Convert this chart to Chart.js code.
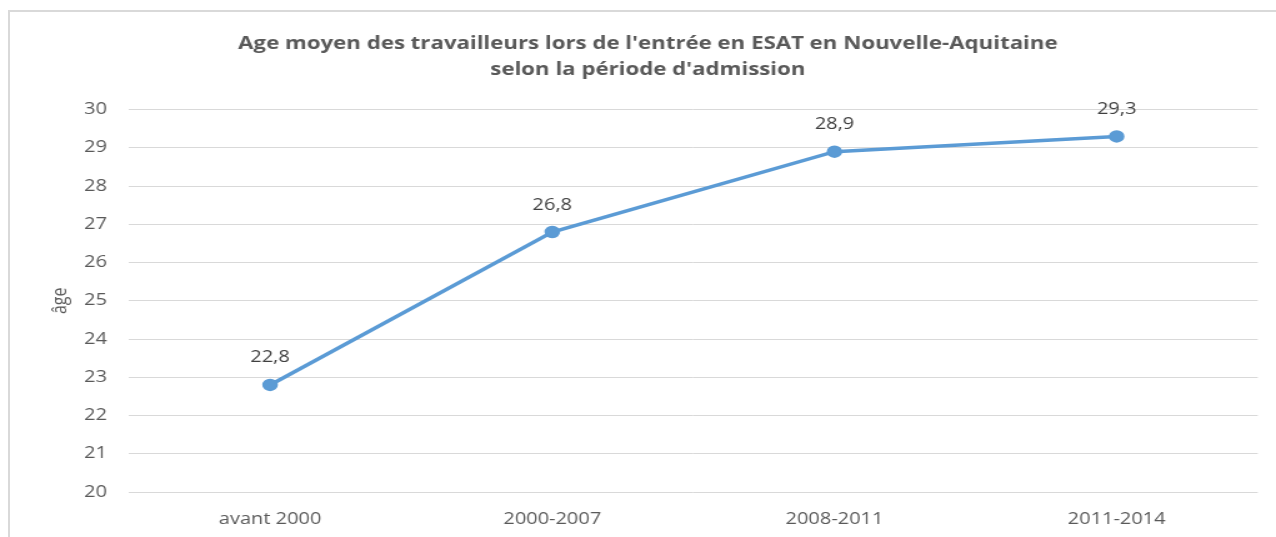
<!DOCTYPE html>
<html>
<head>
<meta charset="utf-8">
<script src="https://cdn.jsdelivr.net/npm/chart.js"></script>
<style>
  html, body { margin: 0; padding: 0; background: #fff; }
  #cadre { position: relative; width: 1276px; height: 537px; overflow: hidden; }
  /* le graphique d'origine est étiré horizontalement */
  #graphiqueAge { display: block; width: 1276px !important; height: 537px !important; }
  #bord { position: absolute; left: 8px; top: 10px; right: -4px; bottom: -4px;
          border-top: 2px solid #d9d9d9; border-left: 2px solid #d9d9d9; pointer-events: none; }
</style>
</head>
<body>
<div id="cadre">
  <canvas id="graphiqueAge" width="1021" height="537"></canvas>
  <div id="bord"></div>
</div>
<script>
// Données
const periodes = ['avant 2000', '2000-2007', '2008-2011', '2011-2014'];
const ageMoyen = [22.8, 26.8, 28.9, 29.3];
const titreLignes = ["Age moyen des travailleurs lors de l'entrée en ESAT en Nouvelle-Aquitaine", "selon la période d'admission"];

const police = "'Open Sans', 'Noto Sans', sans-serif";

// Étiquettes de valeurs au-dessus des points
const etiquettesValeurs = {
    id: 'etiquettesValeurs',
    afterDatasetsDraw(chart) {
        const ctx = chart.ctx;
        const meta = chart.getDatasetMeta(0);
        ctx.save();
        ctx.font = '16px ' + police;
        ctx.fillStyle = '#404040';
        ctx.textAlign = 'center';
        ctx.textBaseline = 'middle';
        meta.data.forEach((pt, i) => {
            const txt = ageMoyen[i].toFixed(1).replace('.', ',');
            ctx.fillText(txt, pt.x, pt.y - 27);
        });
        ctx.restore();
    }
};

new Chart(document.getElementById('graphiqueAge').getContext('2d'), {
    type: 'line',
    data: {
        labels: periodes,
        datasets: [{
            data: ageMoyen,
            borderColor: '#5b9bd5',
            backgroundColor: '#5b9bd5',
            borderWidth: 3.5,
            pointRadius: 5.5,
            pointBorderWidth: 1.5,
            pointBackgroundColor: '#5b9bd5',
            tension: 0
        }]
    },
    options: {
        responsive: false,
        animation: false,
        devicePixelRatio: 1,
        layout: { padding: { left: 30.4, right: 14.6, top: 0, bottom: 0 } },
        plugins: {
            legend: { display: false },
            tooltip: { enabled: false },
            title: {
                display: true,
                text: titreLignes,
                color: '#595959',
                font: { family: police, size: 17.8, weight: 'bold', lineHeight: 1.45 },
                padding: { top: 31, bottom: 27 }
            }
        },
        scales: {
            x: {
                offset: true,
                grid: { display: false, drawTicks: false },
                border: { display: false },
                ticks: { color: '#595959', font: { family: police, size: 16 }, padding: 18 },
                afterFit(scale) { scale.height = 45; }
            },
            y: {
                min: 20,
                max: 30,
                grid: { color: '#d9d9d9', lineWidth: 1, drawTicks: false },
                border: { display: false },
                ticks: { stepSize: 1, color: '#595959', font: { family: police, size: 16 }, padding: 17.6 },
                title: {
                    display: true,
                    text: 'âge',
                    color: '#595959',
                    font: { family: police, size: 16 },
                    padding: { top: 8, bottom: 0 }
                },
                afterFit(scale) { scale.width = 72.8; }
            }
        }
    },
    plugins: [etiquettesValeurs]
});
</script>
</body>
</html>
